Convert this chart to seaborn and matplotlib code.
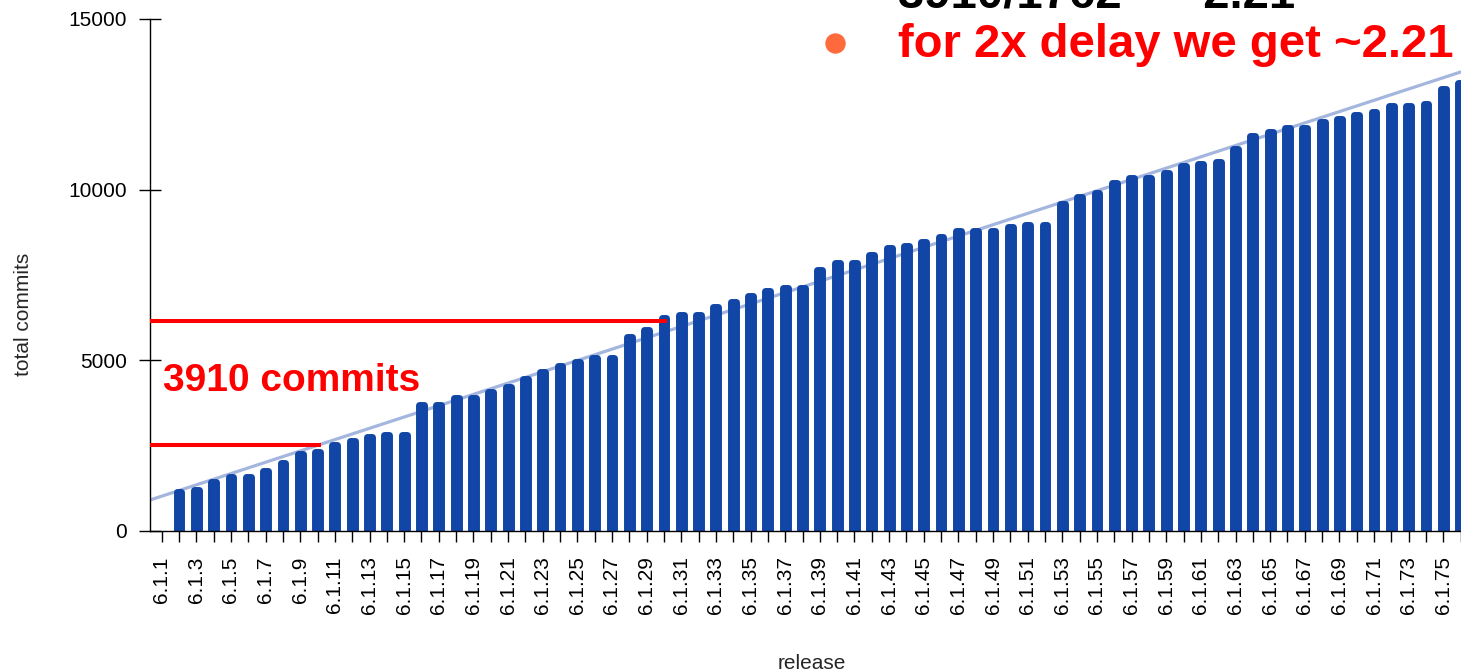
import matplotlib
matplotlib.use("Agg")
import matplotlib.pyplot as plt
import seaborn as sns
import pandas as pd

# data
releases = [f"6.1.{i}" for i in range(1, 77)]
bar_releases = releases[1:]          # 6.1.1 shows no bar
commits = [1150, 1200, 1430, 1590, 1590, 1760, 1980, 2255, 2305, 2530,
           2640, 2755, 2815, 2815, 3680, 3680, 3905, 3905, 4070,
           4230, 4455, 4665, 4835, 4940, 5060, 5060, 5675, 5890, 6230,
           6330, 6330, 6555, 6720, 6885, 7040, 7110, 7110, 7645,
           7860, 7860, 8085, 8300, 8360, 8465, 8625, 8790, 8790, 8790,
           8915, 8955, 8955, 9570, 9795, 9910, 10185, 10355, 10355,
           10480, 10695, 10750, 10800, 11200, 11570, 11690, 11795, 11795,
           11975, 12070, 12190, 12285, 12460, 12460, 12520, 12950, 13115]
y_ticks = [0, 5000, 10000, 15000]

# trend line: value at first and last release
trend_first = 1020
trend_last = 13447

# red marker lines: level and release where they end
marker_levels = [2510, 6165]
marker_ends = ["6.1.10", "6.1.30"]

df = pd.DataFrame({"release": bar_releases, "commits": commits})

sns.set_style("ticks")
plt.rcParams["font.family"] = ["Liberation Sans", "DejaVu Sans"]

W, H = 1461, 672
fig = plt.figure(figsize=(W / 100, H / 100), dpi=100)
ax = fig.add_axes([150 / W, 141 / H, 1311 / W, 512 / H])

bar_color = "#1146a6"
ax.axline((0, trend_first), (len(releases) - 1, trend_last),
          color="#a4b6de", lw=2.3, zorder=1)

sns.barplot(data=df, x="release", y="commits", order=releases,
            color=bar_color, saturation=1, width=0.28, errorbar=None,
            edgecolor=bar_color, linewidth=5, ax=ax, zorder=2)
for p in ax.patches:
    p.set_joinstyle("round")

left = -0.675
for lvl, end in zip(marker_levels, marker_ends):
    ax.hlines(lvl, left, releases.index(end) + 0.2, color="#ff0000",
              lw=2.9, zorder=3)

ax.set_xlim(left, 75.02)
ax.set_ylim(0, 15000)
ax.set_yticks(y_ticks)
ax.set_yticklabels([str(v) for v in y_ticks])
ax.set_xticks(range(len(releases)))
ax.set_xticklabels([r if i % 2 == 0 else "" for i, r in enumerate(releases)],
                   rotation=90)

for s in ["top", "right"]:
    ax.spines[s].set_visible(False)
for s in ["left", "bottom"]:
    ax.spines[s].set_color("black")
    ax.spines[s].set_linewidth(1)

ax.tick_params(axis="y", direction="inout", length=16, width=1,
               pad=8.8, labelsize=15, colors="black")
ax.tick_params(axis="x", direction="out", length=8, width=1,
               pad=10.3, labelsize=15, colors="black")

ax.set_xlabel("release", fontsize=15)
ax.set_ylabel("total commits", fontsize=15)
ax.xaxis.set_label_coords(0.505, -0.24)
ax.yaxis.set_label_coords(-0.089, 0.424)

ax.text(163, H - 381, "3910 commits", transform=None, color="#ff0000",
        fontsize=28, fontweight="bold", va="center", ha="left")

# slide text in the top right corner (cut by the frame, as in the source)
fig.text(898 / W, 1 - 7 / H, "3910/1762 = ~2.21", color="black",
         fontsize=34, fontweight="bold", va="baseline", ha="left")
fig.text(898 / W, 1 - 57 / H, "for 2x delay we get ~2.21",
         color="#ff0000", fontsize=34, fontweight="bold",
         va="baseline", ha="left")
fig.lines.append(plt.Line2D([835 / W], [1 - 43 / H], marker="o",
                            markersize=13.7, color="#ff6a3d",
                            transform=fig.transFigure, figure=fig))

fig.savefig("out.png", dpi=100)
